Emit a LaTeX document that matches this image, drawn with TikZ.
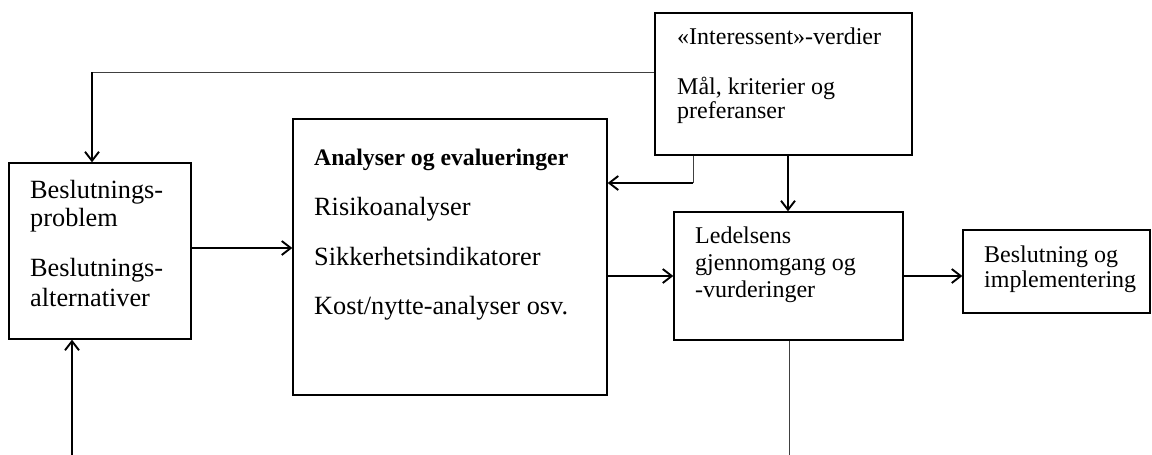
\documentclass[tikz,border=0pt]{standalone}
\usepackage{fontspec}
\setmainfont{Liberation Serif}
\usetikzlibrary{arrows.meta}
\begin{document}
\begin{tikzpicture}[x=1pt,y=-1pt,
  box/.style={draw=black,line width=1.4pt,rectangle,inner sep=0pt},
  big/.style={font=\fontsize{26.3}{29}\selectfont,anchor=base west,inner sep=0pt},
  small/.style={font=\fontsize{24}{26}\selectfont,anchor=base west,inner sep=0pt},
  head/.style={font=\fontsize{23.7}{26}\bfseries\selectfont,anchor=base west,inner sep=0pt},
  arr/.style={line width=1.9pt,-{Straight Barb[length=9pt,width=14pt,line width=1.9pt]}},
  thin line/.style={line width=1pt,draw=black!75}]
\useasboundingbox (0,0) rectangle (1152,455);
\fill[white] (0,0) rectangle (1152,455);

% boxes
\node[box,minimum width=182pt,minimum height=176pt] (B1) at (100,251) {};
\node[box,minimum width=314pt,minimum height=276pt] (B2) at (450,257) {};
\node[box,minimum width=257pt,minimum height=142pt] (B3) at (783.5,84) {};
\node[box,minimum width=229pt,minimum height=128pt] (B4) at (788.5,276) {};
\node[box,minimum width=187pt,minimum height=83pt] (B5) at (1056.5,271.5) {};

% texts
\node[big] (t1a) at (30,198) {Beslutnings-};
\node[big] (t1b) at (30,226) {problem};
\node[big] (t1c) at (30,276) {Beslutnings-};
\node[big] (t1d) at (30,306) {alternativer};

\node[head] (t2a) at (314,165) {Analyser og evalueringer};
\node[big] (t2b) at (314,215) {Risikoanalyser};
\node[big] (t2c) at (314,265) {Sikkerhetsindikatorer};
\node[big] (t2d) at (314,314) {Kost/nytte-analyser osv.};

\node[small] (t3a) at (677,45) {«Interessent»-verdier};
\node[small] (t3b) at (677,94) {Mål, kriterier og};
\node[small] (t3c) at (677,118) {preferanser};

\node[small] (t4a) at (695,243) {Ledelsens};
\node[small] (t4b) at (695,270) {gjennomgang og};
\node[small] (t4c) at (695,297) {-vurderinger};

\node[small] (t5a) at (984,262) {Beslutning og};
\node[small] (t5b) at (984,287) {implementering};

% helper coordinates
\coordinate (k1) at (92,72);
\coordinate (k2) at (693,183);
\coordinate (k3) at (788,0);
\coordinate (k4) at (0,248);
\coordinate (bot1) at (72,455);
\coordinate (bot2) at (789,455);

% connectors
\draw[thin line] (B3.west |- k1) -- (k1);
\draw[arr] (k1) -- (B1.north -| k1);

\draw[thin line] (k2 |- B3.south) -- (k2);
\draw[arr] (k2) -- (B2.east |- k2);

\draw[arr] (k3 |- B3.south) -- (k3 |- B4.north);

\draw[arr] (B1.east |- k4) -- (B2.west |- k4);
\draw[arr] (B2.east |- B4.west) -- (B4.west);
\draw[arr] (B4.east) -- (B5.west |- B4.east);

\draw[arr] (bot1) -- (B1.south -| bot1);
\draw[thin line] (B4.south -| bot2) -- (bot2);
\end{tikzpicture}
\end{document}
